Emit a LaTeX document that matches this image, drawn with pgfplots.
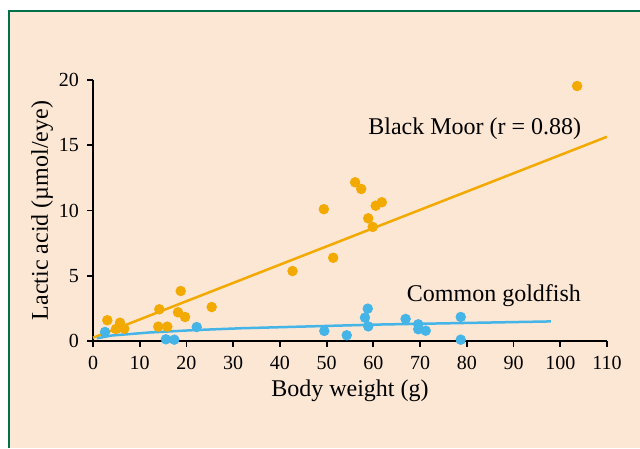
\documentclass[border=0pt]{standalone}
\usepackage{pgfplots}
\pgfplotsset{compat=1.18}
\usepackage{fontspec}
\setmainfont{Liberation Serif}

\definecolor{moor}{RGB}{242,169,0}
\definecolor{goldfish}{RGB}{69,181,232}
\definecolor{panel}{RGB}{252,231,213}
\definecolor{frame}{RGB}{0,112,74}

\begin{document}
\begin{tikzpicture}
\useasboundingbox (0,0) rectangle (320pt,224pt);
\fill[white] (0,0) rectangle (320pt,224pt);
\fill[panel] (4.65pt,0) rectangle (320pt,218.5pt);
\draw[frame, line width=1pt] (4.65pt,0) -- (4.65pt,218.5pt) -- (320pt,218.5pt);
\begin{axis}[
  at={(46.5pt,53.5pt)}, anchor=south west,
  scale only axis, width=257pt, height=130.5pt,
  xmin=0, xmax=110, ymin=0, ymax=20,
  axis lines=left, axis line style={-, line width=1.1pt, black},
  tick align=outside, major tick length=3pt,
  tick style={line width=0.9pt, black},
  xtick={0,10,...,110}, ytick={0,5,10,15,20},
  /pgf/number format/assume math mode=true,
  ticklabel style={font=\fontsize{10}{12}\selectfont},
  xticklabel style={yshift=-1.2pt},
  yticklabel style={xshift=-0.5pt},
  xlabel={Body weight (g)},
  ylabel={Lactic acid (\textmu mol/eye)},
  label style={font=\fontsize{12}{14}\selectfont},
  xlabel style={at={(axis description cs:0.5,-0.19)}, anchor=center},
  ylabel style={at={(axis description cs:-0.099,0.5)}, anchor=center},
  clip=false,
]
% regression lines
\addplot[moor, line width=1.25pt] coordinates {(0,0.25) (110,15.65)};
\addplot[goldfish, line width=1.25pt] coordinates {
  (0.8,0.2) (4,0.42) (12,0.65) (22,0.84) (32,0.98) (61,1.26) (98,1.5)};

% Black Moor measurements
\addplot[only marks, mark=*, mark size=2.4pt, color=moor] coordinates {
  (3.06,1.59) (4.92,0.92) (5.78,1.40) (6.70,0.94)
  (14.19,2.43) (13.97,1.10) (15.9,1.10) (18.77,3.83)
  (18.19,2.20) (19.69,1.84) (25.4,2.6) (42.7,5.36)
  (51.4,6.38) (49.4,10.1) (56.1,12.16) (57.4,11.65)
  (60.5,10.37) (61.8,10.63) (58.9,9.40) (59.85,8.74)
  (103.6,19.54)};

% Common goldfish measurements
\addplot[only marks, mark=*, mark size=2.4pt, color=goldfish] coordinates {
  (2.57,0.69) (15.6,0.13) (17.4,0.10) (22.2,1.07)
  (49.5,0.77) (54.3,0.44) (58.8,2.48) (58.2,1.79)
  (58.9,1.12) (66.9,1.69) (69.6,1.28) (69.6,0.90)
  (71.2,0.79) (78.7,1.84) (78.7,0.10)};

\node[font=\fontsize{12}{14}\selectfont] at (axis cs:81.7,16.3) {Black Moor (r = 0.88)};
\node[font=\fontsize{12}{14}\selectfont] at (axis cs:85.8,3.5) {Common goldfish};
\end{axis}
\end{tikzpicture}
\end{document}
